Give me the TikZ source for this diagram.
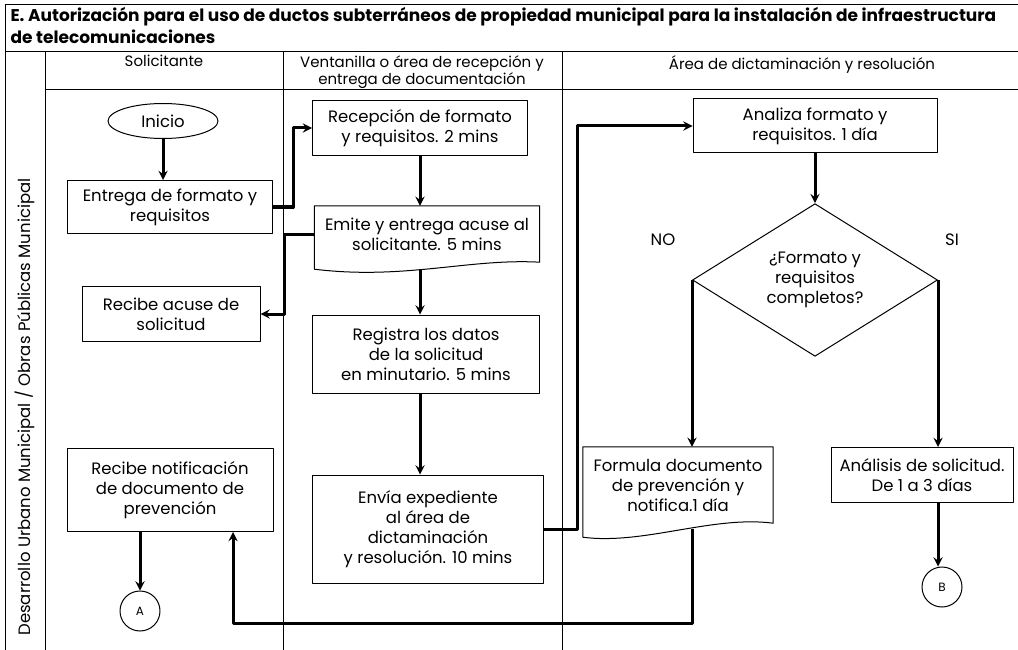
\documentclass[tikz,border=0pt]{standalone}
\usepackage{fontspec}
\setmainfont{Poppins}
\usetikzlibrary{shapes.geometric,calc}

\begin{document}
\begin{tikzpicture}[x=1pt, y=-1pt, line join=round, >=stealth,
	font=\fontsize{16.5}{20}\selectfont,
	caja/.style={draw, line width=1pt, align=center, inner sep=2pt},
	docu/.style={align=center, inner sep=2pt},
	conector/.style={draw, circle, line width=1pt, minimum size=40pt, inner sep=0pt, font=\fontsize{12}{14}\selectfont},
	flecha/.style={->, line width=3pt},
	linea/.style={line width=1pt}]
	\useasboundingbox (0,0) rectangle (1018,650);
	% marco y carriles
	\draw[linea] (5,650) -- (5,5) -- (1018,5);
	\draw[linea] (5,52) -- (1018,52);
	\draw[linea] (45,90) -- (1018,90);
	\draw[linea] (45,52) -- (45,650);
	\draw[linea] (283,52) -- (283,650);
	\draw[linea] (562,52) -- (562,650);
	\node[anchor=north west, align=left, font=\bfseries\fontsize{17}{22}\selectfont] (titulo) at (7,4) {E. Autorización para el uso de ductos subterráneos de propiedad municipal para la instalación de infraestructura\\de telecomunicaciones};
	\node[anchor=north, font=\fontsize{15}{17}\selectfont] (hsolicitante) at (164,52) {Solicitante};
	\node[anchor=north, align=center, font=\fontsize{15}{17}\selectfont] (hventanilla) at (422,52) {Ventanilla o área de recepción y\\entrega de documentación};
	\node[anchor=north, font=\fontsize{15}{17}\selectfont] (harea) at (802,52) {Área de dictaminación y resolución};
	\node[rotate=90] (hdepto) at (25,407) {Desarrollo Urbano Municipal / Obras Públicas Municipal};
	% solicitante
	\node[caja, ellipse, minimum width=110pt, minimum height=35pt] (inicio) at (163,121) {Inicio};
	\node[caja, minimum width=205pt, minimum height=53pt] (entrega) at (170,207) {Entrega de formato y\\requisitos};
	\node[caja, minimum width=178pt, minimum height=55pt] (acuse) at (171,314) {Recibe acuse de\\solicitud};
	\node[caja, minimum width=206pt, minimum height=83pt] (notif) at (170,490) {Recibe notificación\\de documento de\\prevención};
	\node[conector] (conA) at (140,611) {A};
	% ventanilla
	\node[caja, minimum width=215pt, minimum height=55pt] (recep) at (420,128) {Recepción de formato\\y requisitos. 2 mins};
	\node[docu, minimum width=225pt, minimum height=56pt] (emite) at (427,234) {Emite y entrega acuse al\\solicitante. 5 mins};
	\node[caja, minimum width=227pt, minimum height=78pt] (registra) at (426,354) {Registra los datos\\de la solicitud\\en minutario. 5 mins};
	\node[caja, minimum width=231pt, minimum height=108pt] (envia) at (428,529) {Envía expediente\\al área de\\dictaminación\\y resolución. 10 mins};
	% dictaminacion
	\node[caja, minimum width=244pt, minimum height=54pt] (analiza) at (815,126) {Analiza formato y\\requisitos. 1 día};
	\node[caja, diamond, minimum width=245pt, minimum height=146pt, inner sep=0pt] (decision) at (815,280) {¿Formato y\\requisitos\\completos?};
	\node (etiqno) at (663,240) {NO};
	\node (etiqsi) at (952,240) {SI};
	\node[docu, minimum width=190pt, minimum height=76pt] (formula) at (678,485) {Formula documento\\de prevención y\\notifica.1 día};
	\node[caja, minimum width=182pt, minimum height=55pt] (analisis) at (922,475) {Análisis de solicitud.\\De 1 a 3 días};
	\node[conector] (conB) at (942,587) {B};
	% documentos con borde ondulado
	\draw[line width=1pt] (emite.north west) -- (emite.north east) -- (emite.south east)
		.. controls +(-70,-4) and +(90,11) .. ($(emite.south west)+(0,7)$) coordinate[pos=0.55] (emitepie) -- cycle;
	\draw[line width=1pt] (formula.north west) -- (formula.north east) -- (formula.south east)
		.. controls +(-60,-8) and +(60,8) .. ($(formula.south west)+(0,14)$) coordinate[pos=0.45] (formulapie) -- cycle;
	% flechas
	\draw[flecha] (inicio.south) -- (inicio.south |- entrega.north);
	\draw[flecha] (entrega.east) -- ++(20,0) |- (recep.west);
	\draw[flecha] (recep.south) -- (recep.south |- emite.north);
	\draw[flecha] (emite.west) -- ++(-30,0) |- (acuse.east);
	\draw[flecha] (recep.south |- emitepie) -- (recep.south |- registra.north);
	\draw[flecha] (recep.south |- registra.south) -- (recep.south |- envia.north);
	\draw[flecha] (envia.east) -- ++(33,0) |- (analiza.west);
	\draw[flecha] (analiza.south) -- (decision.north);
	\draw[flecha] (decision.west) -- (decision.west |- formula.north);
	\draw[flecha] (decision.east) -- (decision.east |- analisis.north);
	\draw[flecha] (decision.east |- analisis.south) -- (decision.east |- conB.north);
	\draw[flecha] (conA.north |- notif.south) -- (conA.north);
	\coordinate (retorno) at (233,623);
	\draw[flecha] (decision.west |- formulapie) |- (retorno) -- (retorno |- notif.south);
\end{tikzpicture}
\end{document}
